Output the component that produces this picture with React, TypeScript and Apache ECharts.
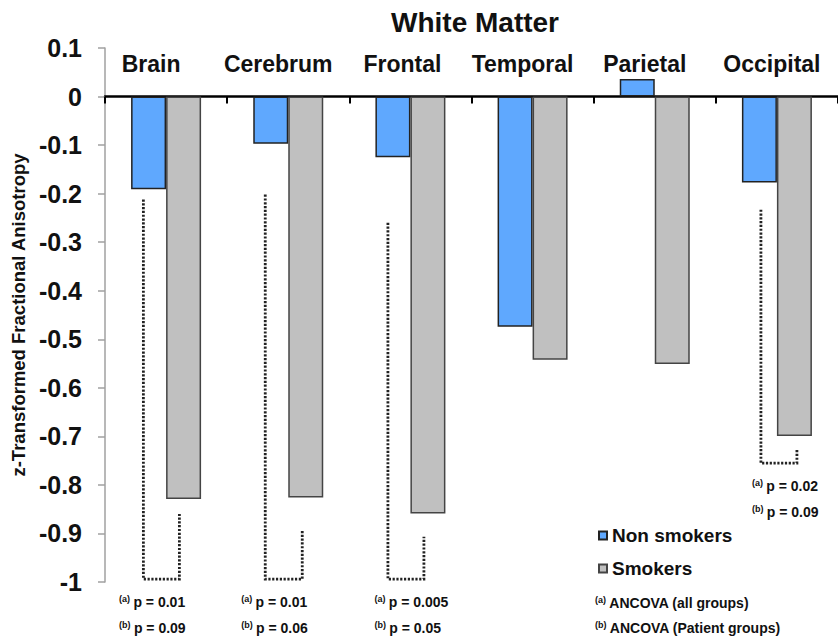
import React, { useEffect, useRef } from "react";
import * as echarts from "echarts";

const FONT = '"Liberation Sans", Arial, Helvetica, sans-serif';

const categories = ["Brain", "Cerebrum", "Frontal", "Temporal", "Parietal", "Occipital"];
const nonSmokers = [-0.191, -0.097, -0.125, -0.474, 0.036, -0.177];
const smokers = [-0.829, -0.826, -0.859, -0.542, -0.551, -0.699];

const bracketCats = [0, 1, 2, 5];
const bracketLeftTop = [-0.212, -0.202, -0.26, -0.233];
const bracketRightTop = [-0.86, -0.893, -0.907, -0.728];
const bracketBottom = [-0.994, -0.994, -0.994, -0.755];
const pAllGroups = ["0.01", "0.01", "0.005", "0.02"];
const pPatientGroups = ["0.09", "0.06", "0.05", "0.09"];

const footnotes = [
  ["(a)", "ANCOVA (all groups)"],
  ["(b)", "ANCOVA (Patient groups)"],
];

// pixel offsets (style only)
const BRACKET_DX = [
  [-22.7, 13.3],
  [-23, 14],
  [-22.5, 13.5],
  [-16, 20],
];
const TEXT_DX = [-47, -47, -36, -25];
const LABEL_SHIFT = [15, 10, 8, 10, 10, 5]; // px shifted left

const rich = {
  s: { fontSize: 9, fontWeight: "bold", fontFamily: FONT, fill: "#111", color: "#111", padding: [0, 0, 6, 0] },
  m: { fontSize: 14, fontWeight: "bold", fontFamily: FONT, fill: "#111", color: "#111" },
};

const labelRich: any = {};
LABEL_SHIFT.forEach((s, i) => {
  labelRich["c" + i] = {
    fontSize: 23,
    fontWeight: "bold",
    color: "#111",
    fontFamily: FONT,
    padding: [0, s * 2, 0, 0],
  };
});

export default function App() {
  const ref = useRef<HTMLDivElement>(null);
  useEffect(() => {
    if (!ref.current) return;
    const chart = echarts.init(ref.current, null, { renderer: "svg" });
    const option: any = {
      animation: false,
      backgroundColor: "#fff",
      grid: { left: 105, top: 48, width: 740, height: 534 },
      legend: {
        data: ["Non smokers", "Smokers"],
        orient: "vertical",
        left: 598,
        top: 526,
        padding: 0,
        itemWidth: 8,
        itemHeight: 8,
        itemGap: 14,
        icon: "rect",
        selectedMode: false,
        textStyle: { fontSize: 19, fontWeight: "bold", color: "#111", fontFamily: FONT },
      },
      xAxis: [
        {
          type: "category",
          data: categories,
          axisLine: { onZero: true, lineStyle: { color: "#000", width: 2.5 } },
          axisTick: { show: true, length: 7, lineStyle: { color: "#000", width: 2 } },
          axisLabel: { show: false },
          splitLine: { show: false },
        },
        {
          type: "category",
          data: categories,
          position: "top",
          axisLine: { show: false },
          axisTick: { show: false },
          axisLabel: {
            interval: 0,
            hideOverlap: false,
            inside: true,
            margin: 4,
            fontSize: 23,
            fontWeight: "bold",
            color: "#111",
            fontFamily: FONT,
            formatter: (v: string, i: number) => "{c" + i + "|" + v + "}",
            rich: labelRich,
          },
        },
      ],
      yAxis: {
        type: "value",
        min: -1,
        max: 0.1,
        interval: 0.1,
        name: "z-Transformed Fractional Anisotropy",
        nameLocation: "middle",
        nameGap: 75,
        nameTextStyle: { fontSize: 18.5, fontWeight: "bold", color: "#111", fontFamily: FONT },
        axisLine: { show: true, lineStyle: { color: "#a0a0a0", width: 1.5 } },
        axisTick: { show: true, length: 7, lineStyle: { color: "#a0a0a0", width: 1.5 } },
        axisLabel: {
          margin: 23,
          fontSize: 25,
          fontWeight: "bold",
          color: "#111",
          fontFamily: FONT,
          formatter: (v: number) => String(Math.round(v * 10) / 10),
        },
        splitLine: { show: false },
      },
      series: [
        {
          name: "Non smokers",
          type: "bar",
          data: nonSmokers,
          barWidth: 35,
          barGap: "0%",
          itemStyle: { color: "#5fa8fe", borderColor: "#222", borderWidth: 1.5 },
        },
        {
          name: "Smokers",
          type: "bar",
          data: smokers,
          barWidth: 35,
          barGap: "0%",
          itemStyle: { color: "#c0c0c0", borderColor: "#444", borderWidth: 1.5 },
        },
        {
          type: "custom",
          clip: false,
          silent: true,
          data: bracketCats.map((c, i) => [c, bracketLeftTop[i], bracketRightTop[i], bracketBottom[i]]),
          renderItem: (params: any, api: any) => {
            const i = params.dataIndex;
            const cat = api.value(0);
            const pb = api.coord([cat, api.value(3)]);
            const cx = pb[0];
            const yb = pb[1];
            const yl = api.coord([cat, api.value(1)])[1];
            const yr = api.coord([cat, api.value(2)])[1];
            const [dl, dr] = BRACKET_DX[i];
            const tx = cx + TEXT_DX[i];
            return {
              type: "group",
              children: [
                {
                  type: "polyline",
                  shape: {
                    points: [
                      [cx + dl, yl],
                      [cx + dl, yb],
                      [cx + dr, yb],
                      [cx + dr, yr],
                    ],
                  },
                  style: { stroke: "#222", lineWidth: 2.8, lineDash: [2.2, 1.6], fill: null },
                },
                {
                  type: "text",
                  x: tx,
                  y: yb + 23,
                  style: {
                    text: "{s|(a)} {m|p = " + pAllGroups[i] + "}",
                    rich,
                    align: "left",
                    verticalAlign: "middle",
                  },
                },
                {
                  type: "text",
                  x: tx,
                  y: yb + 49,
                  style: {
                    text: "{s|(b)} {m|p = " + pPatientGroups[i] + "}",
                    rich,
                    align: "left",
                    verticalAlign: "middle",
                  },
                },
              ],
            };
          },
        },
      ],
      graphic: [
        {
          type: "text",
          x: 475,
          y: 22,
          style: {
            text: "White Matter",
            font: "bold 28px " + FONT,
            fill: "#111",
            align: "center",
            verticalAlign: "middle",
            textAlign: "center",
            textVerticalAlign: "middle",
          },
        },
        ...footnotes.map((f, k) => ({
          type: "text",
          x: 595,
          y: 603 + k * 25,
          style: {
            text: "{s|" + f[0] + "} {m|" + f[1] + "}",
            rich,
            align: "left",
            verticalAlign: "middle",
            textVerticalAlign: "middle",
          },
        })),
      ],
    };
    chart.setOption(option);
    return () => chart.dispose();
  }, []);
  return (
    <div
      ref={ref}
      style={{ position: "fixed", left: 0, top: 0, width: 838, height: 642, background: "#fff" }}
    />
  );
}
